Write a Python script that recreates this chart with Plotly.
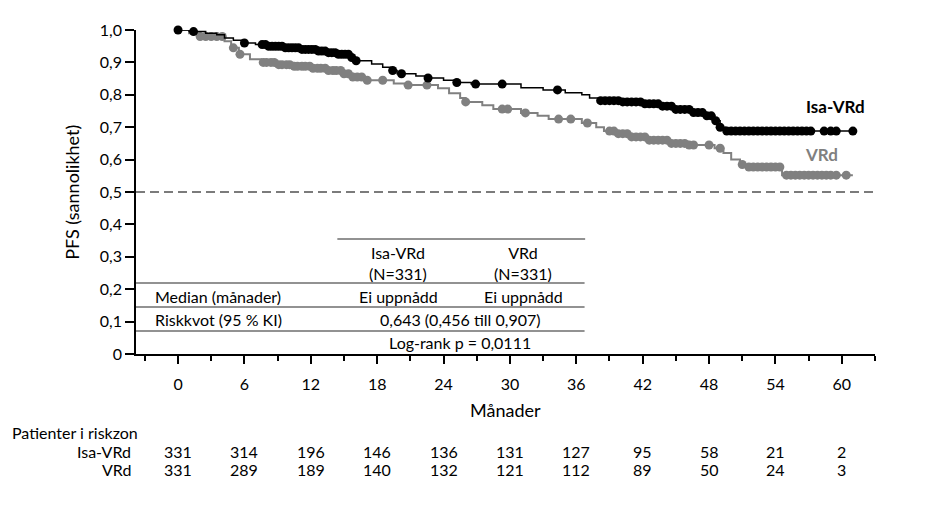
'''
Kaplan-Meier plot of PFS for Isa-VRd vs VRd with risk table underneath
'''

import numpy as np
import plotly.graph_objects as go

# step curve (month, survival after step)
isa_times = [0, 1.0, 2.5, 3.5, 4.2, 5.0, 5.8, 7.0, 8.0, 9.5, 11.0, 12.5, 13.5, 14.5, 15.5,
             16.0, 17.5, 18.5, 19.2, 19.8, 21.5, 22.5, 24.0, 25.0, 26.5, 31.0, 33.0, 35.0,
             36.5, 37.2, 38.0, 40.0, 42.0, 43.5, 45.0, 46.5, 47.5, 48.5, 49.0, 49.5, 61.0]
isa_surv = [1.0, 0.995, 0.99, 0.985, 0.975, 0.968, 0.96, 0.955, 0.95, 0.945, 0.94, 0.935,
            0.93, 0.925, 0.915, 0.905, 0.895, 0.885, 0.875, 0.865, 0.858, 0.852, 0.845,
            0.838, 0.833, 0.822, 0.815, 0.806, 0.80, 0.79, 0.782, 0.778, 0.772, 0.765,
            0.755, 0.745, 0.735, 0.72, 0.70, 0.688, 0.688]
isa_censor = [0, 1.4, 6.0, 7.6, 7.9, 8.2, 8.5, 8.8, 9.1, 9.4, 9.7, 10.0, 10.3, 10.6, 10.9,
              11.2, 11.5, 11.8, 12.1, 12.4, 12.7, 13.0, 13.3, 13.6, 13.9, 14.2, 14.5, 14.8,
              15.1, 15.4, 15.7, 16.1, 19.4, 20.2, 22.6, 25.2, 26.9, 29.3, 34.3,
              38.2, 38.6, 39.0, 39.4, 39.8, 40.2, 40.6, 41.0, 41.4, 41.8, 42.2, 42.6, 43.0,
              43.4, 43.8, 44.2, 44.6, 45.0, 45.4, 45.8, 46.2, 46.6, 47.0, 47.4, 47.8, 48.2,
              48.6, 49.0, 49.6, 50.0, 50.4, 50.8, 51.2, 51.6, 52.0, 52.4, 52.8, 53.2, 53.6,
              54.0, 54.4, 54.8, 55.2, 55.6, 56.0, 56.4, 56.8, 57.2, 58.4, 59.0, 59.5, 61.0]

vrd_times = [0, 1.0, 2.0, 4.2, 4.8, 5.5, 6.5, 7.5, 9.0, 10.5, 12.0, 13.5, 15.0, 15.8, 16.8,
             19.5, 20.5, 23.5, 24.5, 25.5, 26.0, 27.5, 28.5, 31.0, 32.5, 33.5, 36.5, 37.8,
             38.5, 39.5, 41.0, 42.5, 44.5, 46.0, 48.5, 49.3, 50.0, 50.8, 51.5, 54.6, 61.0]
vrd_surv = [1.0, 0.99, 0.98, 0.965, 0.945, 0.925, 0.91, 0.90, 0.893, 0.888, 0.882, 0.875,
            0.865, 0.855, 0.845, 0.835, 0.83, 0.82, 0.805, 0.79, 0.778, 0.768, 0.756, 0.744,
            0.735, 0.725, 0.713, 0.70, 0.688, 0.68, 0.67, 0.66, 0.65, 0.645, 0.635, 0.62,
            0.60, 0.585, 0.577, 0.552, 0.552]
vrd_censor = [2.0, 2.5, 3.0, 3.5, 4.0, 5.0, 5.6, 7.7, 8.0, 8.4, 8.7, 9.1, 9.4, 9.8, 10.1,
              10.5, 10.8, 11.2, 11.5, 11.9, 12.2, 12.6, 12.9, 13.3, 13.6, 14.0, 14.3, 14.7,
              15.0, 15.4, 15.8, 16.2, 16.6, 17.1, 18.5, 20.8, 22.5, 26.0, 29.3, 29.8, 31.4,
              34.4, 35.5, 37.0, 39.0, 39.4, 39.8, 40.2, 40.6, 41.0, 41.4, 41.8, 42.2, 42.6,
              43.0, 43.4, 43.8, 44.2, 44.6, 45.0, 45.4, 45.8, 46.2, 46.6, 48.0, 49.0, 51.0,
              51.6, 52.0, 52.4, 52.8, 53.2, 53.6, 54.0, 54.4, 55.0, 55.4, 55.8, 56.2, 56.6,
              57.0, 57.4, 57.8, 58.2, 58.6, 59.0, 59.5, 60.4]

# risk table
risk_months = [0, 6, 12, 18, 24, 30, 36, 42, 48, 54, 60]
isa_at_risk = [331, 314, 196, 146, 136, 131, 127, 95, 58, 21, 2]
vrd_at_risk = [331, 289, 189, 140, 132, 121, 112, 89, 50, 24, 3]

y_ticks = [0, 0.1, 0.2, 0.3, 0.4, 0.5, 0.6, 0.7, 0.8, 0.9, 1.0]
y_ticktext = ['0', '0,1', '0,2', '0,3', '0,4', '0,5', '0,6', '0,7', '0,8', '0,9', '1,0']

FONT = 'Lato'
GRAY = '#808080'


def step_value(times, surv, t):
    '''look up the curve value at time t'''
    idx = np.searchsorted(times, t, side='right') - 1
    return surv[max(idx, 0)]


def add_arm(fig, times, surv, censor, color, width, name):
    #step line
    fig.add_trace(go.Scatter(x=times, y=surv, mode='lines', line_shape='hv',
                             line=dict(color=color, width=width),
                             name=name, showlegend=False, cliponaxis=False))
    #censor marks sit on the curve
    cy = [step_value(times, surv, t) for t in censor]
    fig.add_trace(go.Scatter(x=censor, y=cy, mode='markers',
                             marker=dict(color=color, size=9),
                             name=name, showlegend=False, cliponaxis=False))


def note(text, x, y, xref='x', yref='y', xanchor='center', size=16, color='black', **kw):
    return dict(x=x, y=y, xref=xref, yref=yref, text=text, showarrow=False,
                xanchor=xanchor, yanchor='middle',
                font=dict(family=FONT, size=size, color=color), **kw)


def main():

    fig = go.Figure()

    add_arm(fig, vrd_times, vrd_surv, vrd_censor, GRAY, 2, 'VRd')
    add_arm(fig, isa_times, isa_surv, isa_censor, 'black', 1.5, 'Isa-VRd')

    ann = []

    #curve labels
    ann.append(note('<b>Isa-VRd</b>', 56.6, 0.765, xanchor='left', size=17))
    ann.append(note('<b>VRd</b>', 56.5, 0.617, xanchor='left', size=17, color=GRAY))

    #table inside the plot
    ann.append(note('Isa-VRd<br>(N=331)', 19.9, 0.282))
    ann.append(note('VRd<br>(N=331)', 31.2, 0.282))
    ann.append(note('Median (månader)', -2.3, 0.178, xanchor='left'))
    ann.append(note('Ei uppnådd', 19.9, 0.178))
    ann.append(note('Ei uppnådd', 31.2, 0.178))
    ann.append(note('Riskkvot (95 % KI)', -2.3, 0.108, xanchor='left'))
    ann.append(note('0,643 (0,456 till 0,907)', 25.5, 0.108))
    ann.append(note('Log-rank p = 0,0111', 25.5, 0.034))

    #axis titles
    ann.append(note('Månader', 0.5, -0.173, xref='paper', yref='paper', size=18))
    ann.append(note('PFS (sannolikhet)', -0.087, 0.5, xref='paper', yref='paper',
                    size=18, textangle=-90))

    #risk table below
    ann.append(note('Patienter i riskzon', -0.171, -0.241, xref='paper', yref='paper',
                    xanchor='left'))
    ann.append(note('Isa-VRd', -0.004, -0.302, xref='paper', yref='paper', xanchor='right'))
    ann.append(note('VRd', -0.004, -0.358, xref='paper', yref='paper', xanchor='right'))
    for m, a, b in zip(risk_months, isa_at_risk, vrd_at_risk):
        ann.append(note(str(a), m, -0.302, yref='paper'))
        ann.append(note(str(b), m, -0.358, yref='paper'))

    #table rules and the median line
    line = dict(color='#6e6e6e', width=1.5)
    shapes = [
        dict(type='line', xref='x', yref='y', x0=14.4, x1=36.8, y0=0.355, y1=0.355, line=line),
        dict(type='line', xref='paper', yref='y', x0=0, x1=0.607, y0=0.219, y1=0.219, line=line),
        dict(type='line', xref='paper', yref='y', x0=0, x1=0.607, y0=0.145, y1=0.145, line=line),
        dict(type='line', xref='paper', yref='y', x0=0, x1=0.607, y0=0.071, y1=0.071, line=line),
        dict(type='line', xref='paper', yref='y', x0=0, x1=1, y0=0.5, y1=0.5,
             line=dict(color='#505050', width=1.3, dash='9px,5px')),
    ]

    # page body adds 8px, so the figure is 8px smaller and margins shifted
    fig.update_layout(
        width=937, height=504,
        margin=dict(l=128, r=70, t=22, b=158),
        paper_bgcolor='white', plot_bgcolor='white',
        font=dict(family=FONT, size=16, color='black'),
        annotations=ann, shapes=shapes, showlegend=False,
        xaxis=dict(range=[-3.8, 63], tickvals=risk_months, ticks='outside', ticklen=8,
                   tickwidth=1.5, tickcolor='black', showline=True, linecolor='black',
                   linewidth=1.5, showgrid=False, zeroline=False, ticklabelstandoff=7,
                   minor=dict(dtick=3, tick0=0, ticks='outside', ticklen=5,
                              tickwidth=1.5, tickcolor='black', showgrid=False),
                   tickfont=dict(family=FONT, size=16)),
        yaxis=dict(range=[0, 1.0], tickvals=y_ticks, ticktext=y_ticktext, ticks='outside',
                   ticklen=9, tickwidth=1.5, tickcolor='black', showline=True,
                   linecolor='black', linewidth=1.5, showgrid=False, zeroline=False,
                   tickfont=dict(family=FONT, size=16)),
    )

    fig.write_html('out.html')


if __name__ == '__main__':
    main()
